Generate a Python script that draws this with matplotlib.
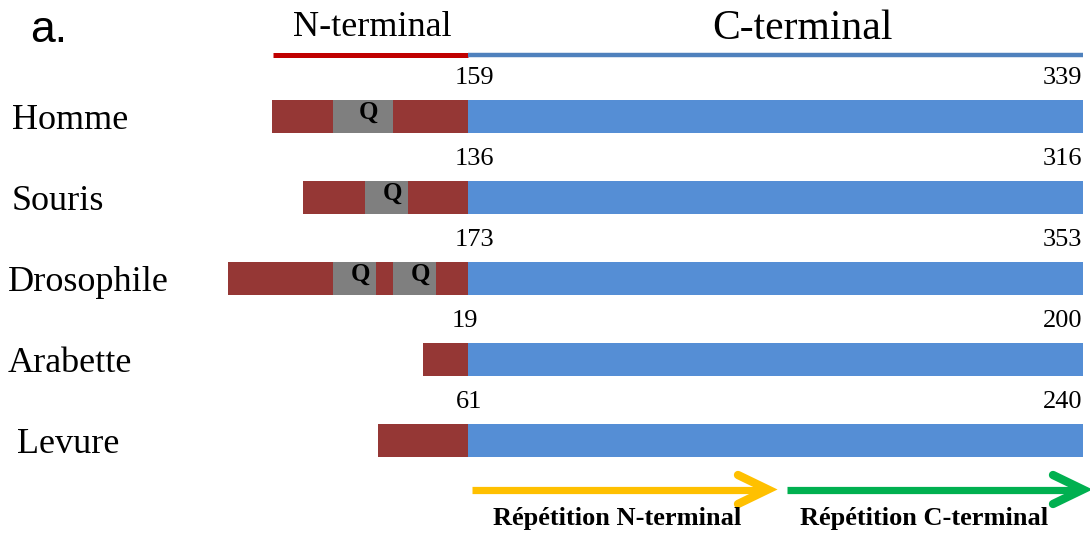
import numpy as np
import matplotlib.pyplot as plt

# ------------------------------------------------------------
# data
# ------------------------------------------------------------
species = ["Homme", "Souris", "Drosophile", "Arabette", "Levure"]
n_end = [159, 136, 173, 19, 61]          # last residue of the N-terminal part
c_end = [339, 316, 353, 200, 240]        # last residue of the protein

# diagram units (drawing scale, junction N/C at 468)
junction = 468
c_stop = 1083
n_start = [272, 303, 228, 423, 378]
q_boxes = [
    [(333, 393)],
    [(365, 408)],
    [(333, 376), (393, 436)],
    [],
    [],
]

row_y = [116.5, 197.5, 278.5, 359.5, 440.5]
label_x = [12, 12, 8, 8, 17]
left_num_x = [474, 474, 474, 465, 469]

col_n = "#953735"
col_q = "#7F7F7F"
col_c = "#558ED5"

plt.rcParams['font.family'] = ['Liberation Serif', 'DejaVu Serif']

fig = plt.figure(figsize=(10.9, 5.34), dpi=100)
ax = fig.add_axes([0, 0, 1, 1])
ax.set_xlim(0, 1090)
ax.set_ylim(534, 0)
ax.axis('off')

bar_h = 33

for i, name in enumerate(species):
    y = row_y[i]
    # N-terminal part
    ax.barh(y, junction - n_start[i], left=n_start[i], height=bar_h,
            color=col_n, linewidth=0)
    # glutamine-rich stretches
    for a, b in q_boxes[i]:
        ax.barh(y, b - a, left=a, height=bar_h, color=col_q, linewidth=0)
        ax.text((a + b) / 2 + 6, y - 4, "Q", ha='center', va='center',
                fontsize=18, fontweight='bold', color='black')
    # C-terminal part
    ax.barh(y, c_stop - junction, left=junction, height=bar_h,
            color=col_c, linewidth=0)

    ax.text(label_x[i], y + 4, name, ha='left', va='center', fontsize=26)
    ax.text(left_num_x[i], y - bar_h / 2 - 22, str(n_end[i]),
            ha='center', va='center', fontsize=19)
    ax.text(1082, y - bar_h / 2 - 22, str(c_end[i]),
            ha='right', va='center', fontsize=19)

# domain header
ax.plot([273, junction], [55, 55], color="#C00000", lw=3.6,
        solid_capstyle='butt')
ax.plot([junction, c_stop], [55, 55], color="#4F81BD", lw=3.2,
        solid_capstyle='butt')
ax.text(372, 27, "N-terminal", ha='center', va='center', fontsize=26)
ax.text(803, 29, "C-terminal", ha='center', va='center', fontsize=30)
ax.text(30, 30, "a.", ha='left', va='center', fontsize=32,
        family=['Liberation Sans', 'DejaVu Sans'])

# repeat arrows
def chevron(x0, x1, color):
    ax.plot([x0, x1 - 6], [489.5, 489.5], color=color, lw=5.2,
            solid_capstyle='butt')
    ax.plot([x1 - 33, x1 - 3, x1 - 33], [475, 489.5, 504], color=color,
            lw=6, solid_capstyle='round', solid_joinstyle='miter')

chevron(472, 771, "#FFC000")
chevron(787, 1086, "#00B050")

ax.text(617, 518, "Répétition N-terminal", ha='center', va='center',
        fontsize=19, fontweight='bold')
ax.text(924, 518, "Répétition C-terminal", ha='center', va='center',
        fontsize=19, fontweight='bold')

fig.savefig("out.png", dpi=100)
